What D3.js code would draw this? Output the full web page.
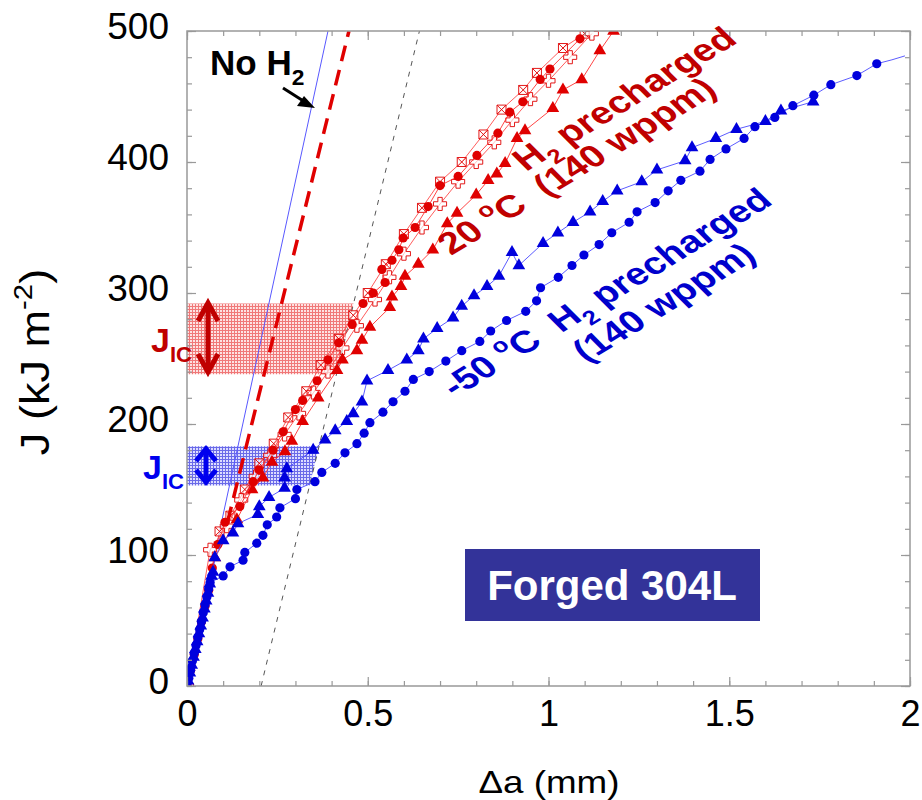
<!DOCTYPE html>
<html>
<head>
<meta charset="utf-8">
<script src="https://cdn.jsdelivr.net/npm/d3@7"></script>
<style>
  body { margin: 0; background: #fff; }
  svg { display: block; }
  text { font-family: "Liberation Sans", Arial, sans-serif; white-space: pre; }
</style>
</head>
<body>
<svg id="chart" width="922" height="800"></svg>
<script>
// axis ticks
const xMajor = [0, 0.5, 1, 1.5, 2];
const xLabels = ['0', '0.5', '1', '1.5', '2'];
const yMajor = [0, 100, 200, 300, 400, 500];
const yLabels = ['0', '100', '200', '300', '400', '500'];
const xMinor = d3.range(0, 21).map(i => i / 10);
const yMinor = d3.range(0, 26).map(i => i * 20);

// reference lines [da, J]
const noH2Line = [[0, 0], [0.064, 80], [0.097, 127], [0.39, 500]];
const bluntLine = [[0.112, 125], [0.448, 500]];
const offsetLine = [[0.205, 0], [0.643, 500]];

// J_IC bands [lo, hi]
const redBand = [238, 292];
const blueBand = [153, 183];

// -50 C, filled circles
const blueCircles = [[0, 0], [0.005, 6], [0.01, 12], [0.015, 19], [0.02, 25], [0.025, 31], [0.03, 37],
  [0.035, 43], [0.04, 49], [0.045, 56], [0.05, 62], [0.055, 68], [0.06, 74], [0.064, 79],
  [0.10, 84], [0.119, 91], [0.155, 96], [0.16, 102], [0.193, 109], [0.21, 115], [0.222, 123],
  [0.248, 129], [0.257, 136], [0.30, 143], [0.304, 150], [0.354, 156], [0.373, 163], [0.41, 170],
  [0.437, 178], [0.47, 185], [0.49, 193], [0.506, 201], [0.542, 209], [0.57, 217], [0.603, 225],
  [0.626, 234], [0.67, 240], [0.716, 248], [0.76, 256], [0.81, 263], [0.84, 271], [0.884, 279],
  [0.937, 286], [0.967, 294], [0.978, 304], [1.027, 312], [1.065, 321], [1.098, 329], [1.14, 337],
  [1.175, 346], [1.223, 354], [1.245, 362], [1.295, 369], [1.331, 378], [1.366, 386], [1.419, 393],
  [1.447, 402], [1.491, 410], [1.541, 418], [1.571, 427], [1.626, 434], [1.676, 443], [1.734, 451],
  [1.781, 459], [1.853, 466], [1.908, 475]];
const blueCirclesTail = [[1.95, 478], [1.986, 481]];

// -50 C, filled triangles
const blueTriangles = [[0.003, 4], [0.008, 10], [0.013, 16], [0.018, 22], [0.023, 28], [0.028, 34],
  [0.033, 40], [0.038, 46], [0.043, 52], [0.048, 59], [0.053, 65], [0.058, 71], [0.063, 78],
  [0.068, 84], [0.072, 87], [0.077, 98], [0.10, 111], [0.127, 117], [0.141, 124], [0.196, 131],
  [0.20, 137], [0.227, 144], [0.27, 151], [0.27, 159], [0.276, 166], [0.349, 180], [0.382, 188],
  [0.41, 195], [0.442, 202], [0.46, 208], [0.484, 217], [0.498, 233], [0.556, 241], [0.608, 249],
  [0.64, 256], [0.654, 265], [0.692, 273], [0.736, 281], [0.76, 290], [0.794, 298], [0.83, 305],
  [0.863, 313], [0.899, 331], [0.918, 321], [0.985, 338], [1.026, 346], [1.068, 354], [1.115, 362],
  [1.15, 370], [1.19, 378], [1.258, 385], [1.30, 394], [1.378, 401], [1.397, 411], [1.463, 418],
  [1.52, 425], [1.60, 431], [1.643, 439], [1.732, 446]];

// 20 C, filled circles
const redCircles = [[0.01, 12], [0.02, 24], [0.03, 36], [0.04, 49], [0.05, 61], [0.06, 73],
  [0.07, 90], [0.085, 108], [0.105, 125], [0.146, 137], [0.183, 156], [0.199, 165], [0.238, 180],
  [0.266, 194], [0.30, 211], [0.32, 218], [0.36, 233], [0.39, 249], [0.42, 262], [0.457, 276],
  [0.487, 292], [0.515, 300], [0.548, 308], [0.539, 318], [0.567, 325], [0.586, 333], [0.598, 342],
  [0.631, 350], [0.667, 366], [0.70, 382], [0.75, 389], [0.802, 405], [0.86, 422], [0.893, 438],
  [0.929, 446], [0.977, 463], [1.004, 471], [1.087, 494]];

// 20 C, filled triangles
const redTriangles = [[0.077, 98], [0.138, 127], [0.18, 150], [0.21, 159], [0.235, 171],
  [0.271, 179], [0.29, 187], [0.32, 202], [0.363, 220], [0.415, 241], [0.43, 249], [0.47, 256],
  [0.484, 264], [0.506, 274], [0.561, 289], [0.567, 297], [0.592, 305], [0.603, 313], [0.64, 322],
  [0.68, 333], [0.72, 353], [0.747, 361], [0.80, 375], [0.833, 386], [0.857, 391], [0.88, 399],
  [0.913, 418], [0.935, 424], [1.012, 441], [1.04, 455], [1.092, 463], [1.142, 485]];
const redTrianglesTail = [[1.18, 500]];

// 20 C, open squares
const redSquares = [[0.09, 118], [0.12, 130], [0.16, 150], [0.20, 170], [0.24, 185], [0.28, 205],
  [0.33, 225], [0.37, 245], [0.42, 265], [0.46, 283], [0.50, 300], [0.55, 322], [0.60, 345],
  [0.65, 365], [0.70, 385], [0.76, 400], [0.82, 421], [0.87, 440], [0.93, 455], [0.968, 468],
  [1.04, 487], [1.10, 498]];

// 20 C, open crosses
const redCrosses = [[0.064, 104], [0.11, 122], [0.15, 142], [0.19, 160], [0.23, 176], [0.27, 192],
  [0.31, 208], [0.35, 224], [0.39, 240], [0.43, 258], [0.47, 275], [0.52, 295], [0.56, 312],
  [0.60, 330], [0.65, 350], [0.70, 368], [0.75, 385], [0.80, 400], [0.85, 415], [0.90, 432],
  [0.95, 448], [1.00, 462], [1.06, 480], [1.12, 498]];

const RED = '#e00000';
const DARKRED = '#c00000';
const BLUE = '#0000dd';

const svg = d3.select('#chart');
const x = d3.scaleLinear().domain([0, 2]).range([187, 910]);
const y = d3.scaleLinear().domain([0, 500]).range([686, 31]);
const line = d3.line().x(d => x(d[0])).y(d => y(d[1]));

// patterns for the bands
const defs = svg.append('defs');
function gridPattern(id, bg, fg) {
  const p = defs.append('pattern').attr('id', id).attr('patternUnits', 'userSpaceOnUse')
      .attr('width', 3).attr('height', 3);
  p.append('rect').attr('width', 3).attr('height', 3).attr('fill', bg);
  p.append('path').attr('d', 'M0 0.5H3M0.5 0V3').attr('stroke', fg).attr('stroke-width', 1);
}
gridPattern('redgrid', '#fde2e2', '#f07878');
gridPattern('bluegrid', '#dcdcff', '#6a6ae8');

defs.append('clipPath').attr('id', 'plot')
    .append('rect').attr('x', 187).attr('y', 31).attr('width', 723).attr('height', 655);

const plot = svg.append('g').attr('clip-path', 'url(#plot)');

// band right edge follows the 0.2 mm offset line
const offsetX = d3.scaleLinear().domain([offsetLine[0][1], offsetLine[1][1]])
    .range([offsetLine[0][0], offsetLine[1][0]]);
function band(b, fill) {
  const pts = [[0, b[0]], [offsetX(b[0]), b[0]], [offsetX(b[1]), b[1]], [0, b[1]]];
  plot.append('path').attr('d', line(pts) + 'Z').attr('fill', fill);
}
band(redBand, 'url(#redgrid)');
band(blueBand, 'url(#bluegrid)');

// reference lines
plot.append('path').attr('d', line(offsetLine)).attr('fill', 'none')
    .attr('stroke', '#555').attr('stroke-width', 1).attr('stroke-dasharray', '5,6');
plot.append('path').attr('d', line(noH2Line)).attr('fill', 'none')
    .attr('stroke', '#5858ff').attr('stroke-width', 1);

// data series
function series(pts, color, lineColor, shape, drawLine) {
  if (drawLine !== false) {
    plot.append('path').attr('d', line(pts)).attr('fill', 'none')
        .attr('stroke', lineColor).attr('stroke-width', 0.9);
  }
  const g = plot.append('g');
  pts.forEach(d => {
    const px = x(d[0]), py = y(d[1]);
    if (shape === 'circle') {
      g.append('circle').attr('cx', px).attr('cy', py).attr('r', 4.6).attr('fill', color);
    } else if (shape === 'triangle') {
      g.append('path').attr('d', d3.symbol(d3.symbolTriangle, 70)())
          .attr('transform', `translate(${px},${py})`).attr('fill', color);
    } else if (shape === 'square') {
      g.append('path').attr('d', 'M-4.5,-4.5H4.5V4.5H-4.5ZM-4.5,-4.5L4.5,4.5M4.5,-4.5L-4.5,4.5')
          .attr('transform', `translate(${px},${py})`).attr('fill', '#fff').attr('fill-opacity', 0.6)
          .attr('stroke', color).attr('stroke-width', 0.9);
    } else if (shape === 'cross') {
      g.append('path').attr('d', d3.symbol(d3.symbolCross, 95)())
          .attr('transform', `translate(${px},${py})`).attr('fill', '#fff').attr('fill-opacity', 0.6)
          .attr('stroke', color).attr('stroke-width', 0.9);
    }
  });
}

series([[0, 0]].concat(redSquares), RED, '#ff4a4a', 'square');
series([[0, 0]].concat(redCrosses), RED, '#ff4a4a', 'cross');
series([[0, 0]].concat(redTriangles, redTrianglesTail), RED, '#ff3030', 'triangle');
series([[0, 0]].concat(redCircles), RED, '#ff3030', 'circle');

plot.append('path').attr('d', line(blueCircles.concat(blueCirclesTail))).attr('fill', 'none')
    .attr('stroke', '#4a4aff').attr('stroke-width', 0.9);
series(blueTriangles, BLUE, '#4a4aff', 'triangle');
series(blueCircles, BLUE, '#4a4aff', 'circle', false);

// blunting line (red dashed)
plot.append('path').attr('d', line(bluntLine)).attr('fill', 'none')
    .attr('stroke', RED).attr('stroke-width', 3.5).attr('stroke-dasharray', '16,9');

// axes
const axisColor = '#999';
function styleAxis(g) {
  g.select('.domain').remove();
  g.selectAll('line').attr('stroke', axisColor).attr('stroke-width', 1.2);
}
const fmtX = (d, i) => xLabels[i];
const fmtY = (d, i) => yLabels[i];

svg.append('g').attr('transform', 'translate(0,686)')
    .call(d3.axisBottom(x).tickValues(xMinor).tickSize(-5).tickFormat(''))
    .call(styleAxis);
svg.append('g').attr('transform', 'translate(0,686)')
    .call(d3.axisBottom(x).tickValues(xMajor).tickSize(-9).tickPadding(14).tickFormat(fmtX))
    .call(styleAxis)
    .call(g => g.selectAll('text').attr('font-size', 36).attr('fill', '#000')
        .attr('font-family', '"Liberation Sans", Arial, sans-serif'));
svg.append('g').attr('transform', 'translate(0,31)')
    .call(d3.axisTop(x).tickValues(xMinor).tickSize(-5).tickFormat(''))
    .call(styleAxis);
svg.append('g').attr('transform', 'translate(0,31)')
    .call(d3.axisTop(x).tickValues(xMajor).tickSize(-9).tickFormat(''))
    .call(styleAxis);

svg.append('g').attr('transform', 'translate(187,0)')
    .call(d3.axisLeft(y).tickValues(yMinor).tickSize(-5).tickFormat(''))
    .call(styleAxis);
svg.append('g').attr('transform', 'translate(187,0)')
    .call(d3.axisLeft(y).tickValues(yMajor).tickSize(-9).tickPadding(18).tickFormat(fmtY))
    .call(styleAxis)
    .call(g => g.selectAll('text').attr('font-size', 37).attr('fill', '#000').attr('dy', '0.2em')
        .attr('font-family', '"Liberation Sans", Arial, sans-serif'));
svg.append('g').attr('transform', 'translate(910,0)')
    .call(d3.axisRight(y).tickValues(yMinor).tickSize(-5).tickFormat(''))
    .call(styleAxis);
svg.append('g').attr('transform', 'translate(910,0)')
    .call(d3.axisRight(y).tickValues(yMajor).tickSize(-9).tickFormat(''))
    .call(styleAxis);

// frame
svg.append('rect').attr('x', x(0)).attr('y', y(500))
    .attr('width', x(2) - x(0)).attr('height', y(0) - y(500))
    .attr('fill', 'none').attr('stroke', axisColor).attr('stroke-width', 1.5);

// rich text helper: parts = [[text, 'sub' | 'sup' | '']]
function rich(t, parts, size) {
  let shift = 0;
  parts.forEach(p => {
    const target = p[1] === 'sub' ? size * 0.28 : p[1] === 'sup' ? -size * 0.42 : 0;
    const s = t.append('tspan').text(p[0]).attr('dy', target - shift);
    if (p[1]) s.attr('font-size', size * 0.65);
    shift = target;
  });
  return t;
}

// axis titles
rich(svg.append('text').attr('text-anchor', 'middle').attr('font-size', 32)
    .attr('transform', 'translate(549,793) scale(1.15,1)'),
    [['\u0394a (mm)', '']], 32);
rich(svg.append('text').attr('text-anchor', 'middle').attr('font-size', 41)
    .attr('transform', 'translate(49,362) rotate(-90) scale(1.1,1)'),
    [['J (kJ m', ''], ['-2', 'sup'], [')', '']], 41);

// No H2 label + arrow
rich(svg.append('text').attr('x', 210).attr('y', 75).attr('font-size', 35)
    .attr('font-weight', 'bold').attr('fill', '#000'),
    [['No H', ''], ['2', 'sub']], 35);
svg.append('line').attr('x1', 283).attr('y1', 88).attr('x2', 305).attr('y2', 102)
    .attr('stroke', '#000').attr('stroke-width', 3);
svg.append('path').attr('d', 'M315,108 L297,106 L304,96 Z').attr('fill', '#000');

// J_IC labels and double arrows
rich(svg.append('text').attr('x', 151).attr('y', 352).attr('font-size', 34)
    .attr('font-weight', 'bold').attr('fill', DARKRED),
    [['J', ''], ['IC', 'sub']], 34);
rich(svg.append('text').attr('x', 143).attr('y', 479).attr('font-size', 34)
    .attr('font-weight', 'bold').attr('fill', '#0000ee'),
    [['J', ''], ['IC', 'sub']], 34);

function dblArrow(cx, top, bot, color, hw, hl) {
  const g = svg.append('g').attr('fill', 'none').attr('stroke', color)
      .attr('stroke-width', 5).attr('stroke-linejoin', 'miter');
  g.append('line').attr('x1', cx).attr('x2', cx).attr('y1', top + 2).attr('y2', bot - 2);
  g.append('polyline').attr('points', `${cx - hw},${top + hl} ${cx},${top + 2} ${cx + hw},${top + hl}`);
  g.append('polyline').attr('points', `${cx - hw},${bot - hl} ${cx},${bot - 2} ${cx + hw},${bot - hl}`);
}
dblArrow(208, 301, 374, DARKRED, 10, 20);
dblArrow(206, 447, 484, '#0000ee', 10, 14);

// rotated annotations
function rotText(tx, ty, parts, color) {
  const t = svg.append('text').attr('font-size', 31).attr('font-weight', 'bold').attr('fill', color)
      .attr('transform', `translate(${tx},${ty}) scale(1.28,1) rotate(-38)`);
  rich(t, parts, 31);
}
rotText(526, 172, [['H', ''], ['2', 'sub'], [' precharged', '']], DARKRED);
rotText(451, 256, [['20 ', ''], ['o', 'sup'], ['C  (140 wppm)', '']], DARKRED);
rotText(455, 398, [['-50 ', ''], ['o', 'sup'], ['C  H', ''], ['2', 'sub'], [' precharged', '']], '#0000cc');
rotText(586, 363, [['(140 wppm)', '']], '#0000cc');

// material box
svg.append('rect').attr('x', 465).attr('y', 549).attr('width', 295).attr('height', 72)
    .attr('fill', '#333399');
svg.append('text').attr('x', 612).attr('y', 600).attr('text-anchor', 'middle')
    .attr('font-size', 42).attr('font-weight', 'bold').attr('fill', '#fff').text('Forged 304L');
</script>
</body>
</html>
